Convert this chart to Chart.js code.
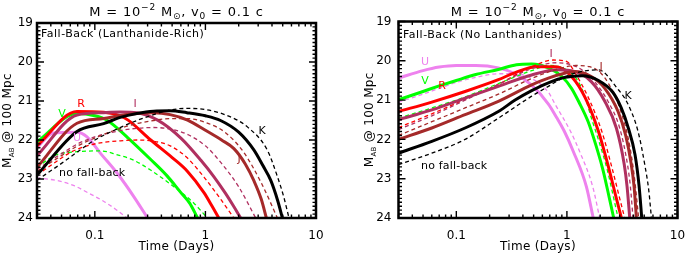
<!DOCTYPE html>
<html><head><meta charset="utf-8">
<script src="https://cdn.jsdelivr.net/npm/chart.js@4/dist/chart.umd.min.js"></script>
<style>
html,body{margin:0;padding:0;background:#fff;}
#wrap{position:relative;width:685px;height:253px;background:#fff;}
canvas{position:absolute;top:0;}
</style></head><body>
<div id="wrap">
<canvas id="c1" width="340" height="253" style="left:0px"></canvas>
<canvas id="c2" width="345" height="253" style="left:340px"></canvas>
</div>
<script>
// ---- axes / categories ----
const xTickValues = [0.1, 1, 10];
const yTickValues = [19, 20, 21, 22, 23, 24];
const bands = ['U', 'V', 'R', 'I', 'J', 'K'];
const bandColors = {U:'#EE82EE', V:'#00FF00', R:'#FF0000', I:'#B03060', J:'#A52A2A', K:'#000000'};

// ---- Left panel: Fall-Back (Lanthanide-Rich), solid = fall-back ; [time (days), M_AB] ----
const leftFB_U = [[0.03,22.2],[0.042,21.82],[0.069,21.8],[0.085,21.92],[0.113,22.35],[0.16,22.86],[0.225,23.45],[0.30,24.0]];
const leftFB_V = [[0.03,22.05],[0.069,21.32],[0.1,21.38],[0.13,21.5],[0.2,21.95],[0.32,22.5],[0.45,22.92],[0.6,23.35],[0.72,23.62],[0.85,24.0]];
const leftFB_R = [[0.03,22.15],[0.069,21.27],[0.12,21.29],[0.17,21.38],[0.2,21.49],[0.32,22.0],[0.5,22.45],[0.686,22.8],[0.97,23.35],[1.15,23.7],[1.32,24.0]];
const leftFB_I = [[0.03,22.4],[0.069,21.36],[0.12,21.30],[0.17,21.28],[0.24,21.3],[0.37,21.49],[0.6,21.95],[0.91,22.52],[1.2,22.95],[1.52,23.37],[1.8,23.7],[2.08,24.0]];
const leftFB_J = [[0.03,22.7],[0.069,21.57],[0.12,21.45],[0.17,21.37],[0.24,21.32],[0.34,21.3],[0.48,21.35],[0.69,21.49],[1.0,21.75],[1.4,22.0],[1.81,22.22],[2.3,22.62],[2.75,23.05],[3.2,23.52],[3.56,24.0]];
const leftFB_K = [[0.03,22.9],[0.069,21.78],[0.12,21.58],[0.17,21.42],[0.24,21.32],[0.34,21.26],[0.48,21.25],[0.68,21.3],[1.0,21.38],[1.37,21.5],[2.0,21.8],[2.75,22.26],[3.3,22.65],[3.89,23.03],[4.5,23.55],[4.97,24.0]];
// dashed = no fall-back
const leftNo_U = [[0.03,22.97],[0.0455,23.04],[0.065,23.17],[0.085,23.34],[0.12,23.57],[0.155,23.78],[0.196,24.0]];
const leftNo_V = [[0.03,22.7],[0.044,22.39],[0.07,22.3],[0.113,22.28],[0.16,22.38],[0.225,22.52],[0.319,22.77],[0.519,23.2],[0.787,23.62],[1.04,24.0]];
const leftNo_R = [[0.03,22.9],[0.045,22.55],[0.06,22.32],[0.085,22.15],[0.12,22.06],[0.17,22.02],[0.24,22.0],[0.34,22.03],[0.48,22.15],[0.68,22.45],[0.97,22.95],[1.4,23.55],[1.81,24.0]];
const leftNo_I = [[0.03,22.75],[0.05,22.35],[0.07,22.1],[0.1,21.92],[0.17,21.76],[0.24,21.7],[0.34,21.68],[0.48,21.72],[0.68,21.85],[1.0,22.15],[1.4,22.6],[2.0,23.2],[2.85,24.0]];
const leftNo_J = [[0.03,22.8],[0.05,22.4],[0.07,22.15],[0.1,21.95],[0.17,21.7],[0.24,21.58],[0.34,21.5],[0.48,21.45],[0.68,21.45],[1.0,21.55],[1.5,21.8],[2.2,22.3],[3.2,23.1],[4.48,24.0]];
const leftNo_K = [[0.03,23.03],[0.05,22.6],[0.07,22.3],[0.1,22.0],[0.15,21.75],[0.24,21.5],[0.34,21.35],[0.48,21.23],[0.68,21.19],[1.0,21.22],[1.5,21.35],[2.41,21.67],[3.63,22.26],[4.48,22.94],[5.1,23.45],[5.7,24.0]];

// ---- Right panel: Fall-Back (No Lanthanides) ----
const rightFB_U = [[0.03,20.44],[0.05,20.25],[0.07,20.16],[0.1,20.12],[0.15,20.12],[0.24,20.18],[0.34,20.33],[0.48,20.62],[0.68,21.1],[0.81,21.45],[0.95,21.8],[1.14,22.3],[1.5,23.2],[1.73,24.0]];
const rightFB_V = [[0.03,20.99],[0.05,20.78],[0.07,20.64],[0.1,20.5],[0.15,20.35],[0.24,20.22],[0.35,20.1],[0.48,20.08],[0.68,20.18],[0.9,20.4],[1.1,20.7],[1.3,21.08],[1.55,21.54],[1.73,21.93],[2.12,22.78],[2.44,23.54],[2.65,24.0]];
const rightFB_R = [[0.03,21.29],[0.06,21.05],[0.12,20.78],[0.24,20.48],[0.34,20.3],[0.53,20.15],[0.8,20.15],[1.1,20.4],[1.47,20.95],[1.93,21.8],[2.39,22.73],[2.8,23.5],[3.11,24.0]];
const rightFB_I = [[0.03,21.5],[0.06,21.25],[0.12,20.95],[0.24,20.65],[0.48,20.36],[0.83,20.23],[1.17,20.27],[1.66,20.53],[2.2,21.03],[2.8,21.71],[3.3,22.64],[3.5,23.2],[3.70,24.0]];
const rightFB_J = [[0.03,22.0],[0.06,21.71],[0.12,21.37],[0.24,21.03],[0.48,20.61],[0.68,20.44],[0.97,20.31],[1.17,20.27],[1.66,20.4],[2.2,20.7],[2.9,21.29],[3.4,21.9],[3.8,22.6],[4.05,23.2],[4.25,24.0]];
const rightFB_K = [[0.03,22.35],[0.06,22.05],[0.12,21.71],[0.24,21.29],[0.34,21.0],[0.48,20.76],[0.68,20.56],[0.97,20.42],[1.37,20.38],[1.93,20.5],[2.6,20.8],[3.1,21.2],[3.59,21.71],[4.13,22.39],[4.5,23.2],[4.75,24.0]];
const rightNo_U = [[0.03,21.05],[0.05,20.85],[0.07,20.7],[0.1,20.55],[0.15,20.42],[0.24,20.33],[0.34,20.33],[0.48,20.45],[0.68,20.8],[0.78,21.1],[1.08,21.8],[1.3,22.3],[1.71,23.2],[1.98,24.0]];
const rightNo_V = [[0.03,21.46],[0.06,21.2],[0.12,20.92],[0.24,20.58],[0.48,20.25],[0.7,20.12],[0.95,20.2],[1.25,20.5],[1.45,20.9],[1.7,21.54],[1.89,21.93],[2.32,22.78],[2.67,23.54],[2.9,24.0]];
const rightNo_R = [[0.03,21.7],[0.06,21.35],[0.12,20.98],[0.24,20.6],[0.48,20.15],[0.75,19.98],[1.0,20.02],[1.18,20.3],[1.57,20.95],[2.07,21.8],[2.56,22.73],[3.0,23.5],[3.33,24.0]];
const rightNo_I = [[0.03,21.75],[0.06,21.4],[0.12,21.0],[0.24,20.6],[0.48,20.2],[0.8,20.05],[1.1,20.1],[1.4,20.25],[1.78,20.53],[2.35,21.03],[3.0,21.71],[3.53,22.64],[3.75,23.2],[3.96,24.0]];
const rightNo_J = [[0.03,21.9],[0.06,21.55],[0.12,21.2],[0.24,20.85],[0.48,20.45],[0.8,20.22],[1.2,20.12],[1.6,20.15],[2.0,20.3],[2.4,20.6],[3.0,21.2],[3.6,22.0],[4.05,22.9],[4.45,24.0]];
const rightNo_K = [[0.03,22.64],[0.06,22.35],[0.12,22.0],[0.24,21.46],[0.48,20.9],[0.68,20.65],[0.97,20.4],[1.37,20.27],[1.93,20.23],[2.85,20.7],[3.59,21.12],[4.4,21.8],[5.1,22.7],[5.5,23.3],[5.81,24.0]];

const FONT = '"DejaVu Sans", "Liberation Sans", sans-serif';

function parts(ctx, list, x, y, align, ls) {
  ctx.letterSpacing = (ls || 0) + 'px';
  let w = 0;
  list.forEach(p => { ctx.font = p[1] + 'px ' + FONT; w += ctx.measureText(p[0]).width; });
  let cx = align === 'center' ? x - w / 2 : x;
  list.forEach(p => {
    ctx.font = p[1] + 'px ' + FONT;
    ctx.fillText(p[0], cx, y + (p[2] || 0));
    cx += ctx.measureText(p[0]).width;
  });
  ctx.letterSpacing = '0px';
}

function decorPlugin(cfg) {
  return {
    id: 'decor',
    afterDraw(chart) {
      const ctx = chart.ctx, ca = chart.chartArea, xs = chart.scales.x, ys = chart.scales.y;
      ctx.save();
      ctx.strokeStyle = '#000'; ctx.fillStyle = '#000';
      // inward ticks
      ctx.lineWidth = 1.4;
      const xMinor = [];
      [0.01, 0.1, 1].forEach(d => { for (let k = 2; k <= 9; k++) { const v = k * d; if (v >= 0.03 && v < 10) xMinor.push(v); } });
      ctx.beginPath();
      xMinor.forEach(v => { const px = xs.getPixelForValue(v);
        ctx.moveTo(px, ca.bottom); ctx.lineTo(px, ca.bottom - 3.5);
        ctx.moveTo(px, ca.top); ctx.lineTo(px, ca.top + 3.5); });
      xTickValues.forEach(v => { const px = xs.getPixelForValue(v);
        ctx.moveTo(px, ca.bottom); ctx.lineTo(px, ca.bottom - 7);
        ctx.moveTo(px, ca.top); ctx.lineTo(px, ca.top + 7); });
      for (let i = 0; i <= 50; i++) {
        const v = 19 + i / 10, py = ys.getPixelForValue(v);
        const len = (i % 10 === 0) ? 7 : 3.5;
        ctx.moveTo(ca.left, py); ctx.lineTo(ca.left + len, py);
        ctx.moveTo(ca.right, py); ctx.lineTo(ca.right - len, py);
      }
      ctx.stroke();
      // frame
      ctx.lineWidth = 2.5;
      ctx.strokeRect(ca.left, ca.top, ca.right - ca.left, ca.bottom - ca.top);
      // titles
      ctx.textBaseline = 'alphabetic';
      const mid = (ca.left + ca.right) / 2;
      parts(ctx, [['M = 10', 13], ['\u22122', 9, -6], [' M', 13], ['\u2299', 9, 3], [', v', 13], ['0', 9, 3], [' = 0.1 c', 13]], mid, 16, 'center', 0.8);
      parts(ctx, [['Time (Days)', 12]], mid, 250, 'center', 0.3);
      ctx.save();
      ctx.translate(cfg.yTitleX, (ca.top + ca.bottom) / 2);
      ctx.rotate(-Math.PI / 2);
      parts(ctx, [['M', 12], ['AB', 7, 3], [' @ 100 Mpc', 12]], 0, 0, 'center', 0.3);
      ctx.restore();
      // panel annotations
      parts(ctx, [[cfg.panelText, 11]], cfg.panelX, cfg.panelY, 'left', 0.5);
      parts(ctx, [['no fall-back', 11]], cfg.nofbX, cfg.nofbY, 'left', 0.2);
      cfg.bandLabels.forEach(b => { ctx.fillStyle = bandColors[b[0]]; parts(ctx, [[b[0], 11]], b[1], b[2], 'center', 0); });
      ctx.restore();
    }
  };
}

function makeChart(id, fb, nofb, cfg) {
  const datasets = [];
  bands.forEach((b, i) => {
    datasets.push({ label: b + ' fall-back', data: fb[i].map(p => ({x: p[0], y: p[1]})), borderColor: bandColors[b],
      borderWidth: 3, pointRadius: 0, fill: false, cubicInterpolationMode: 'monotone' });
    datasets.push({ label: b + ' no fall-back', data: nofb[i].map(p => ({x: p[0], y: p[1]})), borderColor: bandColors[b],
      borderWidth: 1.3, borderDash: [4, 3], pointRadius: 0, fill: false, cubicInterpolationMode: 'monotone' });
  });
  datasets.reverse();
  return new Chart(document.getElementById(id), {
    type: 'line',
    data: { datasets },
    options: {
      responsive: false, animation: false, events: [],
      layout: { padding: { left: cfg.padL, right: cfg.padR, top: cfg.padT, bottom: 0 } },
      plugins: { legend: { display: false }, tooltip: { enabled: false }, title: { display: false } },
      scales: {
        x: { type: 'logarithmic', min: 0.03, max: 10,
          afterFit(s) { s.height = cfg.xH; s.paddingLeft = 0; s.paddingRight = 0; },
          afterBuildTicks(s) { s.ticks = xTickValues.map(v => ({ value: v })); },
          ticks: { callback: v => String(v), color: '#000', font: { family: FONT, size: 12 }, padding: cfg.xPad, maxRotation: 0, autoSkip: false },
          grid: { display: false, drawTicks: false }, border: { display: false } },
        y: { type: 'linear', reverse: true, min: 19, max: 24,
          afterFit(s) { s.width = cfg.yW; s.paddingTop = 0; s.paddingBottom = 0; },
          afterBuildTicks(s) { s.ticks = yTickValues.map(v => ({ value: v })); },
          ticks: { color: '#000', font: { family: FONT, size: 12 }, padding: cfg.yPad },
          grid: { display: false, drawTicks: false }, border: { display: false } }
      }
    },
    plugins: [decorPlugin(cfg)]
  });
}

makeChart('c1',
  [leftFB_U, leftFB_V, leftFB_R, leftFB_I, leftFB_J, leftFB_K],
  [leftNo_U, leftNo_V, leftNo_R, leftNo_I, leftNo_J, leftNo_K],
  { padL: 0, padR: 24, padT: 23, yW: 37, xH: 35, xPad: 11, yPad: 4, yTitleX: 10.5,
    panelText: 'Fall-Back (Lanthanide-Rich)', panelX: 41, panelY: 37, nofbX: 59, nofbY: 176,
    bandLabels: [['V', 62, 117], ['R', 81, 107], ['I', 135, 107], ['U', 77, 141], ['J', 239, 162], ['K', 262, 134]] });

makeChart('c2',
  [rightFB_U, rightFB_V, rightFB_R, rightFB_I, rightFB_J, rightFB_K],
  [rightNo_U, rightNo_V, rightNo_R, rightNo_I, rightNo_J, rightNo_K],
  { padL: 0, padR: 7.5, padT: 21.5, yW: 58.5, xH: 35, xPad: 11, yPad: 7, yTitleX: 33,
    panelText: 'Fall-Back (No Lanthanides)', panelX: 63, panelY: 38, nofbX: 81, nofbY: 169,
    bandLabels: [['U', 85, 65], ['V', 85, 84], ['R', 102, 89], ['I', 211, 57], ['J', 261, 70], ['K', 288, 99]] });
</script>
</body></html>
